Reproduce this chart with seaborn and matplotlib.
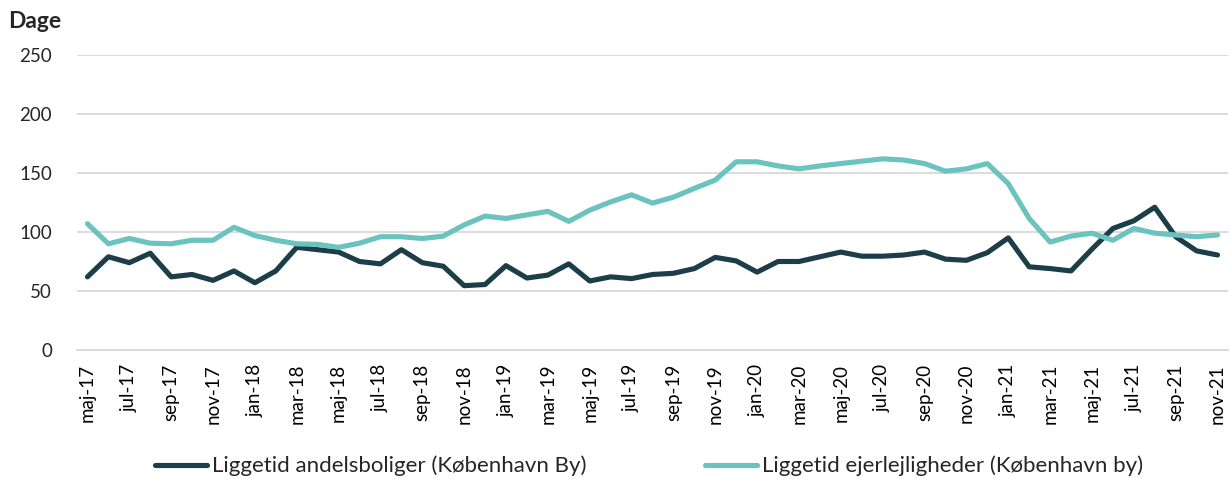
import pandas as pd
import seaborn as sns
import matplotlib.pyplot as plt
import numpy as np

# Months (maj-17 .. nov-21)
maaneder = ['jan', 'feb', 'mar', 'apr', 'maj', 'jun', 'jul', 'aug', 'sep', 'okt', 'nov', 'dec']
months = [f'{maaneder[(4 + i) % 12]}-{17 + (4 + i) // 12}' for i in range(55)]

andelsboliger = [62, 79, 74, 82, 62, 64, 59, 67, 57, 67, 87, 85, 83, 75, 73, 85, 74, 71,
                 54.5, 55.5, 71.5, 61, 63.5, 73, 58.5, 62, 60.5, 64, 65, 69, 78.5, 75.5,
                 66, 75, 75, 79, 83, 79.5, 79.5, 80.5, 83, 77, 76, 82.5, 95, 70.5, 69,
                 67, 85.5, 103, 109.5, 121, 96, 84, 80.5]
ejerlejligheder = [107, 90, 94.5, 90.5, 90, 93, 93, 104, 97, 93, 90, 89.5, 87, 90.5, 96, 96,
                   94.5, 96.5, 106, 113.5, 111.5, 114.5, 117.5, 109, 118.5, 125.5, 131.5,
                   124.5, 129.5, 137, 144, 159.5, 159.5, 156, 153.5, 156, 158, 160, 162,
                   161, 158, 151.5, 153.5, 158, 141, 111.5, 91.5, 96.5, 99, 93, 103, 99,
                   97.5, 96, 97.5]

label_a = 'Liggetid andelsboliger (København By)'
label_e = 'Liggetid ejerlejligheder (København by)'

df = pd.concat([
    pd.DataFrame({'idx': range(len(months)), 'Dage': andelsboliger, 'Serie': label_a}),
    pd.DataFrame({'idx': range(len(months)), 'Dage': ejerlejligheder, 'Serie': label_e}),
])

sns.set_style('white')
plt.rcParams['font.family'] = ['Lato', 'DejaVu Sans']

fig = plt.figure(figsize=(12.3, 4.79), dpi=100)
ax = fig.add_axes([77 / 1230, 1 - 350 / 479, (1228 - 77) / 1230, (350 - 55) / 479])

sns.lineplot(data=df, x='idx', y='Dage', hue='Serie',
             palette={label_a: '#1c3e48', label_e: '#6ac3be'},
             linewidth=3.7, ax=ax, legend=False)

ax.set_xlim(-0.5, len(months) - 0.5)
ax.set_ylim(0, 250)
ax.set_yticks(range(0, 251, 50))
ax.yaxis.grid(True, color='#d9d9d9', linewidth=1.3)
ax.set_axisbelow(True)

ax.set_xticks(range(0, len(months), 2))
ax.set_xticklabels(months[::2], rotation=90)
ax.set_xticks(np.arange(-0.5, len(months), 2), minor=True)
ax.tick_params(axis='x', which='major', length=0, pad=10, labelsize=13.5, colors='black')
ax.tick_params(axis='x', which='minor', length=6, width=1.3, color='#d9d9d9', direction='out')
ax.tick_params(axis='y', length=0, pad=18, labelsize=13.5)

for s in ['left', 'right', 'top']:
    ax.spines[s].set_visible(False)
ax.spines['bottom'].set_color('#d9d9d9')
ax.spines['bottom'].set_linewidth(1.3)

ax.set_xlabel('')
ax.set_ylabel('')
fig.text(8 / 1230, 1 - 22 / 479, 'Dage', fontsize=16.5, fontweight='bold', va='center', ha='left')

handles = [plt.Line2D([], [], color='#1c3e48', linewidth=3.7),
           plt.Line2D([], [], color='#6ac3be', linewidth=3.7)]
fig.legend(handles, [label_a, label_e], loc='center', bbox_to_anchor=(0.5276, 1 - 466 / 479),
           ncol=2, frameon=False, fontsize=16, handlelength=2.35, columnspacing=5.3,
           handletextpad=0.22)

fig.savefig('out.png', dpi=100)
